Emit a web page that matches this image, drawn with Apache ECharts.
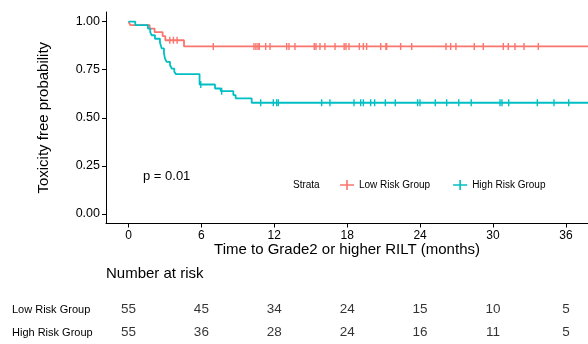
<!DOCTYPE html>
<html>
<head>
<meta charset="utf-8">
<script src="https://cdn.jsdelivr.net/npm/echarts@6/dist/echarts.min.js"></script>
<style>
  html, body { margin: 0; padding: 0; background: #fff; }
  #box { width: 588px; height: 344px; }
</style>
</head>
<body>
<div id="box"></div>
<script>
var myChart = echarts.init(document.getElementById("box"));
var FONT = "Liberation Sans, Arial, Helvetica, sans-serif";

// 分组
var groups = ["Low Risk Group", "High Risk Group"];
var colors = ["#F8766D", "#00BFC4"];

// 生存曲线的阶梯点 (时间, 概率)
var lowTimes = [0, 0.15, 1.74, 2.15, 2.81, 3.03, 4.57, 38];
var lowSurv = [1.0, 0.982, 0.964, 0.945, 0.925, 0.903, 0.871, 0.871];
var highTimes = [0, 0.56, 1.6, 1.79, 1.91, 2.18, 2.59, 2.73, 2.92, 3.0, 3.14, 3.42, 3.56, 3.77, 3.91, 5.85, 7.12, 7.59, 8.63, 8.82, 10.14, 38];
var highSurv = [1.0, 0.982, 0.964, 0.945, 0.929, 0.911, 0.892, 0.861, 0.836, 0.809, 0.791, 0.773, 0.756, 0.739, 0.727, 0.673, 0.652, 0.638, 0.618, 0.601, 0.578, 0.578];

// 删失时间
var lowCensor = [3.4, 3.7, 4.0, 6.98, 10.33, 10.49, 10.66, 10.77, 11.29, 11.65, 13.02, 13.21, 13.7, 15.29, 15.43, 15.76, 16.17, 17.0, 17.75, 17.9, 18.15, 19.0, 19.33, 19.6, 20.76, 21.19, 21.25, 22.4, 23.31, 26.13, 26.52, 26.95, 28.46, 29.2, 30.85, 31.26, 31.81, 32.55, 33.73];
var highCensor = [5.95, 7.67, 10.88, 11.92, 12.2, 12.33, 15.9, 16.58, 18.56, 19.11, 19.33, 19.93, 20.26, 21.14, 21.96, 23.8, 23.99, 25.25, 26.19, 27.18, 28.21, 30.58, 30.74, 31.29, 33.65, 35.02, 36.23];

// 风险表
var riskTimes = [0, 6, 12, 18, 24, 30, 36];
var lowRisk = [55, 45, 34, 24, 15, 10, 5];
var highRisk = [55, 36, 28, 24, 16, 11, 5];

var xTicks = [0, 6, 12, 18, 24, 30, 36];
var yTicks = [0, 0.25, 0.5, 0.75, 1];

function levelAt(times, surv, t) {
  var v = surv[0];
  for (var i = 0; i < times.length; i++) {
    if (times[i] <= t) v = surv[i];
  }
  return v;
}
function zip(a, b) {
  return a.map(function (v, i) { return [v, b[i]]; });
}
function censorData(c, times, surv) {
  return c.map(function (t) { return [t, levelAt(times, surv, t)]; });
}
function riskData(vals, g) {
  return vals.map(function (n, i) { return [riskTimes[i], g, n]; });
}

var legendIcon = "path://M0,4.2H14V5.8H0Z M6.2,0H7.8V10H6.2Z";

myChart.setOption({
  animation: false,
  backgroundColor: "#fff",
  textStyle: { fontFamily: FONT },
  grid: [
    { left: 106, right: 0, top: 12, height: 211.5 },
    { left: 106, right: 0, top: 298, height: 54 }
  ],
  legend: {
    left: 340, top: 180, padding: 0,
    itemWidth: 14, itemHeight: 10, itemGap: 23,
    textStyle: { fontSize: 10, color: "#000", fontFamily: FONT },
    data: [
      { name: groups[0], icon: legendIcon },
      { name: groups[1], icon: legendIcon }
    ]
  },
  graphic: [
    { type: "text", left: 293, top: 180, style: { text: "Strata", fontSize: 10, fill: "#000", fontFamily: FONT } },
    { type: "text", left: 143, top: 170, style: { text: "p = 0.01", fontSize: 13, fill: "#000", fontFamily: FONT } },
    { type: "text", left: 106, top: 266, style: { text: "Number at risk", fontSize: 15, fill: "#000", fontFamily: FONT } }
  ],
  xAxis: [
    {
      gridIndex: 0, type: "value", min: -1.85, max: 37.82,
      name: "Time to Grade2 or higher RILT (months)",
      nameLocation: "middle", nameGap: 19, nameMoveOverlap: false,
      nameTextStyle: { fontSize: 15, color: "#000", fontFamily: FONT },
      axisLine: { onZero: false, lineStyle: { color: "#000", width: 1 } },
      axisTick: { length: 4, customValues: xTicks, lineStyle: { color: "#000" } },
      axisLabel: { customValues: xTicks, fontSize: 12, color: "#000", margin: 6, fontFamily: FONT },
      splitLine: { show: false }
    },
    {
      gridIndex: 1, type: "value", min: -1.85, max: 37.82, show: false
    }
  ],
  yAxis: [
    {
      gridIndex: 0, type: "value", min: -0.05, max: 1.05,
      name: "Toxicity free probability",
      nameLocation: "middle", nameGap: 55,
      nameTextStyle: { fontSize: 15, color: "#000", fontFamily: FONT },
      axisLine: { show: true, onZero: false, lineStyle: { color: "#000", width: 1 } },
      axisTick: { show: true, length: 4, customValues: yTicks, lineStyle: { color: "#000" } },
      axisLabel: {
        customValues: yTicks, fontSize: 12.5, color: "#000", margin: 6, fontFamily: FONT,
        formatter: function (v) { return v.toFixed(2); }
      },
      splitLine: { show: false }
    },
    {
      gridIndex: 1, type: "category", inverse: true, data: groups,
      axisLine: { show: false }, axisTick: { show: false },
      axisLabel: { align: "left", margin: 94, fontSize: 11, color: "#000", fontFamily: FONT },
      splitLine: { show: false }
    }
  ],
  series: [
    {
      name: groups[0], type: "line", step: "end", showSymbol: false,
      data: zip(lowTimes, lowSurv), clip: true,
      lineStyle: { color: colors[0], width: 1.8 }, itemStyle: { color: colors[0] }
    },
    {
      name: groups[1], type: "line", step: "end", showSymbol: false,
      data: zip(highTimes, highSurv), clip: true,
      lineStyle: { color: colors[1], width: 1.8 }, itemStyle: { color: colors[1] }
    },
    {
      name: groups[0], type: "scatter", symbol: "rect", symbolSize: [1.4, 7],
      data: censorData(lowCensor, lowTimes, lowSurv),
      itemStyle: { color: colors[0], opacity: 1 }
    },
    {
      name: groups[1], type: "scatter", symbol: "rect", symbolSize: [1.4, 7],
      data: censorData(highCensor, highTimes, highSurv),
      itemStyle: { color: colors[1], opacity: 1 }
    },
    {
      type: "scatter", xAxisIndex: 1, yAxisIndex: 1, symbolSize: 1,
      itemStyle: { color: "rgba(0,0,0,0)" },
      data: riskData(lowRisk, groups[0]).concat(riskData(highRisk, groups[1])),
      label: {
        show: true, position: "inside", fontSize: 13.5, color: "#000", fontFamily: FONT,
        formatter: function (p) { return String(p.value[2]); }
      }
    }
  ]
});
</script>
</body>
</html>
